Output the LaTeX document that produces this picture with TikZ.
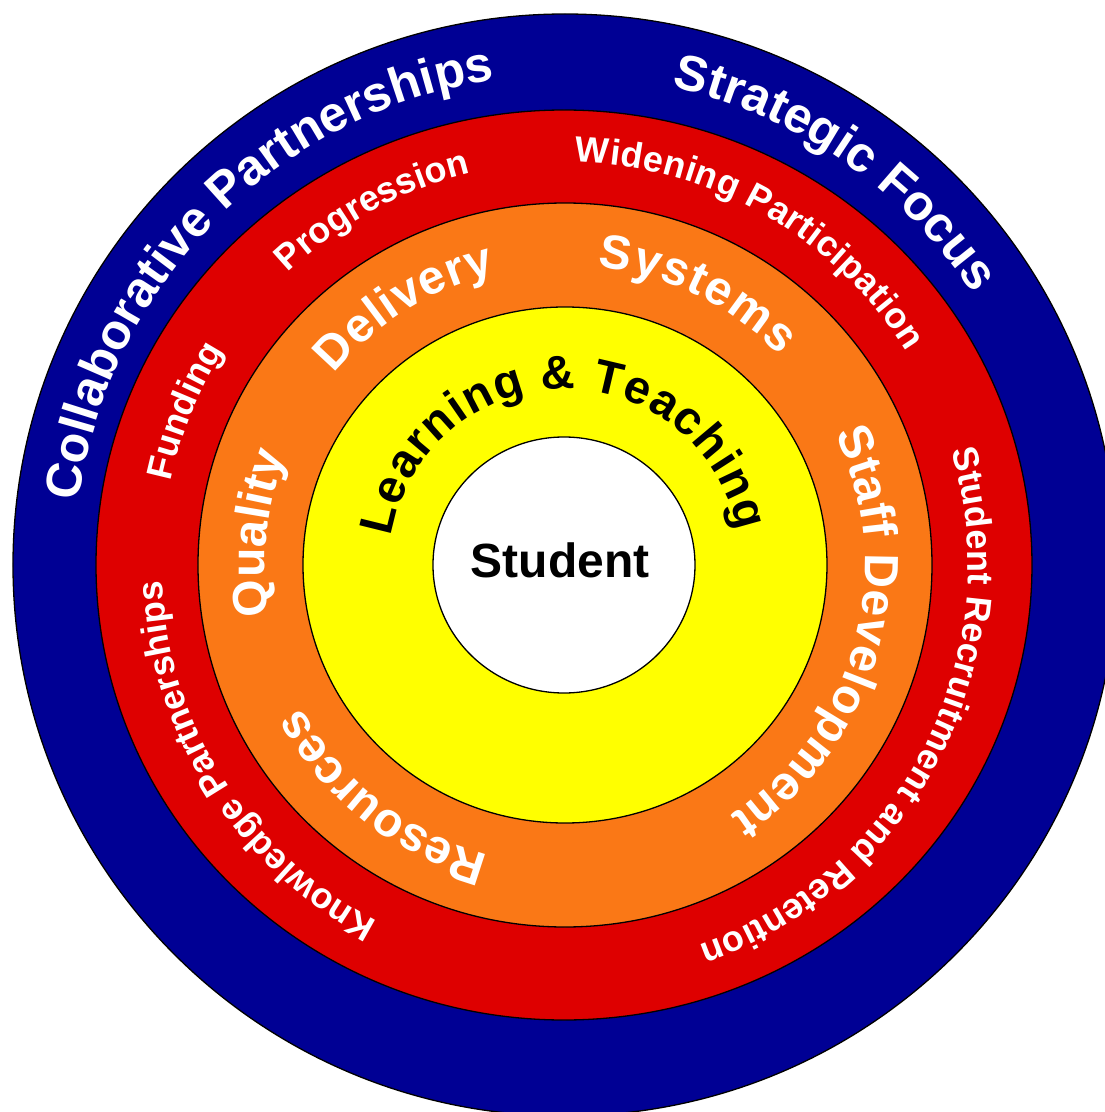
\documentclass[tikz,border=0pt]{standalone}
\usepackage{fontspec}
\setmainfont{Liberation Sans}
\usetikzlibrary{decorations.text}
\definecolor{ringblue}{RGB}{0,0,148}
\definecolor{ringred}{RGB}{222,0,0}
\definecolor{ringorange}{RGB}{250,120,22}
\definecolor{ringyellow}{RGB}{255,255,0}
% radius, from, to, size, colour, text
\newcommand{\arclabel}[6]{%
  \path[decorate, decoration={text along path, text align=fit to path, text color=#5,
    text={|\fontsize{#4}{#4}\selectfont\bfseries|#6}}]
    (#2:#1) arc[start angle=#2, end angle=#3, radius=#1];}
\begin{document}
\begin{tikzpicture}[x=1pt, y=1pt, line width=1.3pt, line join=round]
	\useasboundingbox (-565,-547) rectangle (540,565);
	% rings, outside in
	\draw[fill=ringblue] (0,0) ellipse [x radius=552, y radius=551];
	\draw[fill=ringred] (-1,0) ellipse [x radius=468, y radius=455];
	\draw[fill=ringorange] (0,0) ellipse [x radius=367, y radius=362];
	\draw[fill=ringyellow] (0,0) ellipse [x radius=262, y radius=258];
	\draw[fill=white] (-1,0) ellipse [x radius=131, y radius=128];
	% blue ring
	\def\r{490}
	\arclabel{\r}{172.6}{99.4}{50}{white}{Collaborative Partnerships}
	\arclabel{\r}{77.4}{33.6}{50}{white}{Strategic Focus}
	% red ring
	\def\r{403}
	\arclabel{\r}{133.4}{103.5}{36}{white}{Progression}
	\arclabel{\r}{88.6}{32}{36}{white}{Widening Participation}
	\arclabel{\r}{168}{148}{36}{white}{Funding}
	\arclabel{\r}{242.3}{182.6}{36}{white}{Knowledge Partnerships}
	\arclabel{\r}{16.5}{-70.5}{36}{white}{Student Recruitment and Retention}
	% orange ring
	\def\r{300}
	\arclabel{\r}{140.3}{103.5}{48}{white}{Delivery}
	\arclabel{\r}{83.7}{44.3}{48}{white}{Systems}
	\arclabel{\r}{25.9}{-56.5}{48}{white}{Staff Development}
	\arclabel{\r}{255.3}{208.5}{48}{white}{Resources}
	\arclabel{\r}{189.6}{158.5}{48}{white}{Quality}
	% yellow ring
	\arclabel{176}{170.7}{11}{47}{black}{Learning {\&} Teaching}
	\node[font=\fontsize{48}{48}\selectfont\bfseries] (student) at (-5,5) {Student};
\end{tikzpicture}
\end{document}
